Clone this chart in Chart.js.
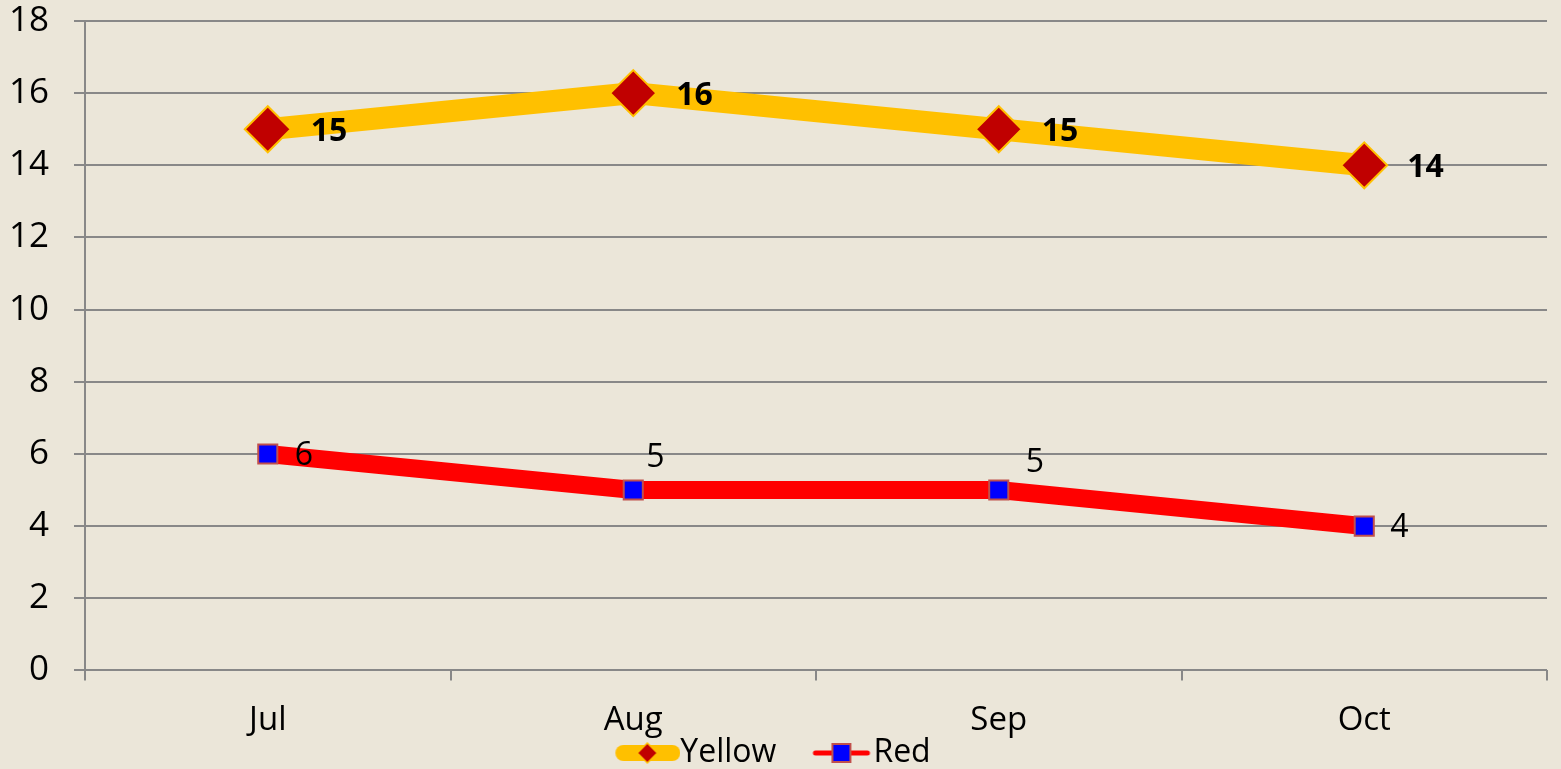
<!DOCTYPE html>
<html>
<head>
<meta charset="utf-8">
<script src="https://cdn.jsdelivr.net/npm/chart.js@4/dist/chart.umd.min.js"></script>
<style>
  html, body { margin: 0; padding: 0; background: #ebe6d9; }
  #rahmen { width: 1561px; height: 769px; position: relative; }
</style>
</head>
<body>
<div id="rahmen"><canvas id="diagramm"></canvas></div>
<script>
// Daten
var monate = ["Jul", "Aug", "Sep", "Oct"];
var werteGelb = [15, 16, 15, 14];
var werteRot = [6, 5, 5, 4];
var yAchseMin = 0;
var yAchseMax = 18;
var yAchseSchritt = 2;

var schrift = "'Open Sans', 'DejaVu Sans', sans-serif";

// kleine Bilder fuer die Legende (Linie + Marker)
function legendeGelb() {
  var c = document.createElement("canvas");
  c.width = 96; c.height = 24;
  var g = c.getContext("2d");
  g.strokeStyle = "#ffc000";
  g.lineWidth = 16;
  g.lineCap = "round";
  g.beginPath(); g.moveTo(39, 12); g.lineTo(88, 12); g.stroke();
  g.fillStyle = "#c00000";
  g.strokeStyle = "#ffc000";
  g.lineWidth = 1.5;
  g.beginPath();
  g.moveTo(63, 2); g.lineTo(73, 12); g.lineTo(63, 22); g.lineTo(53, 12); g.closePath();
  g.fill(); g.stroke();
  return c;
}

function legendeRot() {
  var c = document.createElement("canvas");
  c.width = 96; c.height = 22;
  var g = c.getContext("2d");
  g.strokeStyle = "#ff0000";
  g.lineWidth = 5;
  g.lineCap = "round";
  g.beginPath(); g.moveTo(38, 11); g.lineTo(90, 11); g.stroke();
  g.fillStyle = "#0000ff";
  g.strokeStyle = "#c0504d";
  g.lineWidth = 2;
  g.fillRect(55, 2, 18, 18);
  g.strokeRect(55, 2, 18, 18);
  return c;
}

// Hintergrund
var hintergrundPlugin = {
  id: "hintergrund",
  beforeDraw: function (chart) {
    var ctx = chart.ctx;
    ctx.save();
    ctx.fillStyle = "#ebe6d9";
    ctx.fillRect(0, 0, chart.width, chart.height);
    ctx.restore();
  }
};

// Beschriftung der Punkte
var etikettenPlugin = {
  id: "etiketten",
  afterDatasetsDraw: function (chart) {
    var ctx = chart.ctx;
    chart.data.datasets.forEach(function (ds, i) {
      var meta = chart.getDatasetMeta(i);
      var opt = ds.etikett;
      ctx.save();
      ctx.font = opt.font;
      ctx.fillStyle = "#000000";
      ctx.textAlign = "left";
      ctx.textBaseline = "middle";
      meta.data.forEach(function (pt, j) {
        var v = opt.versatz[j];
        ctx.fillText(String(ds.data[j]), pt.x + v[0], pt.y + v[1]);
      });
      ctx.restore();
    });
  }
};

var ctx = document.getElementById("diagramm").getContext("2d");
window.chartHaupt = new Chart(ctx, {
  type: "line",
  data: {
    labels: monate,
    datasets: [
      {
        label: "Yellow",
        data: werteGelb,
        borderColor: "#ffc000",
        backgroundColor: "#c00000",
        borderWidth: 22,
        tension: 0,
        pointStyle: "rectRot",
        pointRadius: 23,
        pointBorderWidth: 2,
        pointBorderColor: "#ffc000",
        pointBackgroundColor: "#c00000",
        etikett: {
          font: "bold 32px " + schrift,
          versatz: [[43, 3], [43, 3], [43, 3], [43, 3]]
        }
      },
      {
        label: "Red",
        data: werteRot,
        borderColor: "#ff0000",
        backgroundColor: "#0000ff",
        borderWidth: 18,
        tension: 0,
        pointStyle: "rect",
        pointRadius: 13.5,
        pointBorderWidth: 2,
        pointBorderColor: "#c0504d",
        pointBackgroundColor: "#0000ff",
        etikett: {
          font: "32px " + schrift,
          versatz: [[27, 2], [13, -32], [27, -27], [26, 2]]
        }
      }
    ]
  },
  options: {
    responsive: true,
    maintainAspectRatio: false,
    animation: false,
    layout: {
      autoPadding: false,
      padding: { left: -16, right: 14, top: 0, bottom: -10 }
    },
    plugins: {
      title: { display: false },
      tooltip: { enabled: false },
      legend: {
        position: "bottom",
        labels: {
          usePointStyle: true,
          pointStyleWidth: 64,
          padding: 17,
          color: "#000000",
          font: { family: schrift, size: 32 },
          generateLabels: function (chart) {
            return [
              { text: "Yellow", pointStyle: legendeGelb(), datasetIndex: 0, fontColor: "#000", lineWidth: 0, strokeStyle: "transparent", fillStyle: "transparent" },
              { text: "Red", pointStyle: legendeRot(), datasetIndex: 1, fontColor: "#000", lineWidth: 0, strokeStyle: "transparent", fillStyle: "transparent" }
            ];
          }
        }
      }
    },
    scales: {
      x: {
        offset: true,
        afterFit: function (s) {
          // Achse flacher machen, Legende rueckt naeher an die Beschriftung
          s.height = 49.6;
          s.paddingLeft = 0;
          s.paddingRight = 0;
          s._computeLabelArea = function () { return undefined; };
        },
        grid: {
          offset: true,
          drawOnChartArea: false,
          drawTicks: true,
          tickLength: 10,
          color: "#888888",
          lineWidth: 2
        },
        border: { display: false },
        ticks: {
          color: "#000000",
          padding: 20,
          font: { family: schrift, size: 33 }
        }
      },
      y: {
        min: yAchseMin,
        max: yAchseMax,
        afterFit: function (s) {
          s.paddingTop = 21;
          s.paddingBottom = 0;
        },
        ticks: {
          stepSize: yAchseSchritt,
          color: "#000000",
          padding: 25,
          font: { family: schrift, size: 35 }
        },
        grid: {
          color: "#888888",
          lineWidth: 2,
          tickLength: 11,
          drawTicks: true
        },
        border: { display: true, color: "#888888", width: 2 }
      }
    }
  },
  plugins: [hintergrundPlugin, etikettenPlugin]
});
</script>
</body>
</html>
